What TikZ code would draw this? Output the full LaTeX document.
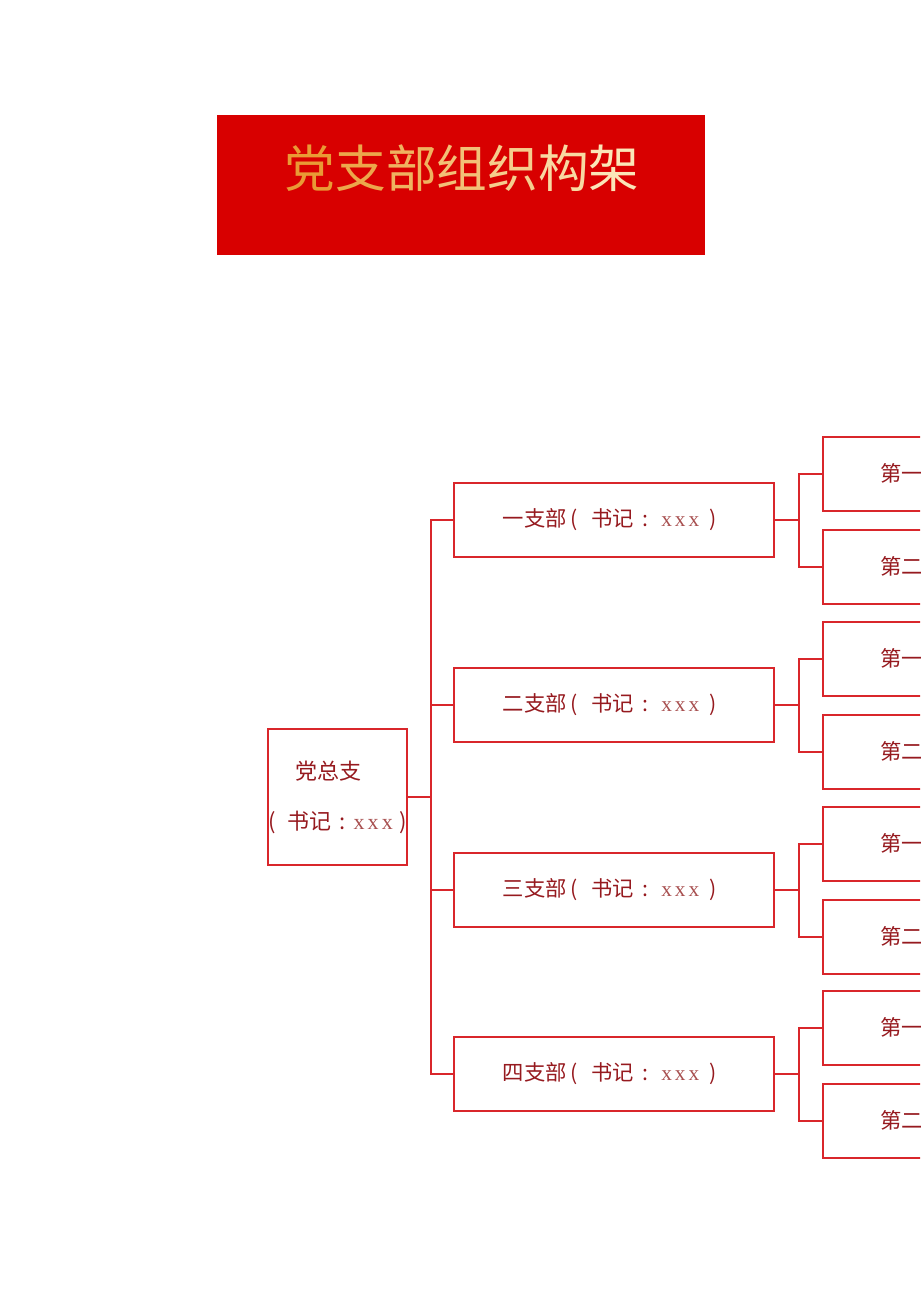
\documentclass[tikz,border=0pt]{standalone}
\usepackage{fontspec}
\setmainfont{Noto Sans CJK SC}
\newfontfamily\xfont[LetterSpace=14]{Liberation Serif}
\usepackage{xcolor}
\definecolor{dndo}{HTML}{D80000}
\definecolor{dnduong}{HTML}{D9262B}
\definecolor{dnchu}{HTML}{961A1F}
\definecolor{dnxxx}{HTML}{A85050}
\definecolor{dncam}{HTML}{E99A35}
\definecolor{dnkem}{HTML}{FBE6B8}
\def\mauduong{dnduong}
\def\mauchu{dnchu}
\usetikzlibrary{positioning}

\begin{document}
\begin{tikzpicture}[x=0.75pt,y=-0.75pt]%
		\tikzset{
			hop/.style={draw=\mauduong,line width=1.5pt,inner sep=0pt,text=\mauchu,
				font=\fontsize{16pt}{18pt}\selectfont},
			chibo/.style={hop,minimum width=240pt,minimum height=55.5pt},
			tobo/.style={hop,minimum width=240pt,minimum height=55.5pt,anchor=west,
				text width=154.5pt,inner xsep=42.75pt,align=left},
			noi/.style={draw=\mauduong,line width=1.5pt}
		}
		\newcommand{\bithu}{\kern3pt(\kern10pt书记\kern6pt:\kern10pt{\xfont\color{dnxxx}xxx}\kern8pt)}
		\newcommand{\bithugoc}{(\kern9pt书记\kern6pt:\kern6pt{\xfont\color{dnxxx}xxx}\kern5pt)}
		\useasboundingbox (0,0) rectangle (920,1301);
		\clip (0,0) rectangle (920,1301);
		%%%Tiêu đề
		\node[fill=dndo,minimum width=366pt,minimum height=105pt,inner sep=0pt] (tieude) at (461,185) {};
		\node[font=\fontsize{38pt}{40pt}\selectfont] (tenbang) at (462,168) {%
			\textcolor{dncam}{党}\textcolor{dnkem!17!dncam}{支}\textcolor{dnkem!33!dncam}{部}%
			\textcolor{dnkem!50!dncam}{组}\textcolor{dnkem!67!dncam}{织}\textcolor{dnkem!83!dncam}{构}%
			\textcolor{dnkem}{架}};
		%%%Đảng tổng chi
		\node[hop,minimum width=104.25pt,minimum height=102pt,align=center,
			font=\fontsize{16.5pt}{37.5pt}\selectfont] (goc) at (337.5,797)
			{\hspace*{-13pt}党总支\\\makebox[0pt]{\bithugoc}};
		%%%Các chi bộ và tổ
		\foreach \i/\y/\ten in {1/520/一,2/705/二,3/890/三,4/1074/四}{%
			\node[chibo] (b\i) at (614,\y) {\hspace*{-6pt}\ten 支部\bithu};
			\node[tobo] (l\i1) at (822,\y-46.5) {第一};
			\node[tobo] (l\i2) at (822,\y+46.5) {第二};
			\draw[noi] (goc.east) -- ++(23,0) |- (b\i.west);
			\draw[noi] (b\i.east) -- ++(24,0) |- (l\i1.west);
			\draw[noi] (b\i.east) -- ++(24,0) |- (l\i2.west);
		}
	\end{tikzpicture}
\end{document}
